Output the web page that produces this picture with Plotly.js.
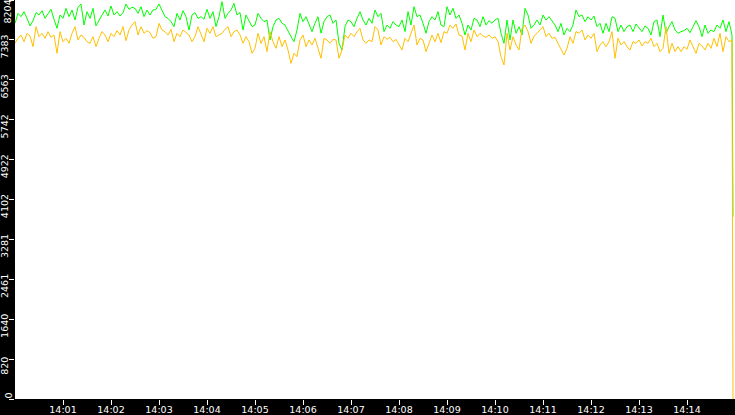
<!DOCTYPE html>
<html>
<head>
<meta charset="utf-8">
<script src="https://cdn.plot.ly/plotly-3.0.1.min.js"></script>
<style>
html,body{margin:0;padding:0;background:#000;}
#chart{width:735px;height:415px;}
</style>
</head>
<body>
<div id="chart"></div>
<script>
// Sampling: one reading every 3.75 s from 14:00:00, then a final reading at the end.
var sampleSeconds = 3.75;

var greenValues = [
7724,7930,7861,7964,7827,7670,7779,7944,7896,7985,7827,7916,8012,7807,7622,7896,7827,8033,7861,7998,7793,8053,8122,7690,7964,7827,8033,7670,7793,7896,7998,7875,8081,7896,7964,7875,7944,8122,8012,8053,
8033,7930,8067,7861,7998,7896,7998,8012,8122,7998,7861,7827,7759,7656,7930,7793,7985,7861,7587,7896,7944,7827,7861,7807,8012,7827,7964,7656,7861,8170,7827,7930,7998,8135,7896,7944,7587,7896,7779,7656,
7690,7930,7827,7759,7793,7382,7656,7793,7827,7724,7690,7553,7450,7347,7587,7930,7759,7861,7690,7553,7724,7861,7519,7759,7861,7896,7724,7793,7313,7176,7656,7793,7759,7656,7827,7964,7793,7690,7827,7724,
7998,7861,7930,7553,7690,7622,7759,7690,7656,7793,7553,7964,7690,8067,7861,7896,7724,7519,7759,7861,7793,7964,7690,7656,8067,7896,8033,7827,7896,7724,7484,7690,7587,7827,7793,7656,7861,7690,7779,7724,
7793,7827,7519,7313,7793,7382,7793,7519,7656,7484,8033,7896,7622,7690,7793,7690,7896,7793,7861,7779,7690,7553,7724,7484,7622,7553,7690,7998,7861,7896,7759,7861,7793,7875,7656,7724,7519,7724,7553,7861,
7827,7553,7690,7553,7656,7690,7553,7711,7622,7553,7670,7622,7484,7759,7793,7450,7896,7519,7656,7759,7587,7519,7553,7574,7622,7532,7656,7779,7656,7450,7690,7519,7587,7553,7690,7622,7793,7553,7759,7484
];
var greenFinal = 3750;

var orangeValues = [
7313,7416,7484,7347,7519,7464,7245,7656,7450,7519,7416,7553,7436,7484,7108,7553,7347,7416,7313,7519,7656,7382,7484,7436,7347,7313,7450,7245,7416,7553,7484,7347,7519,7450,7574,7484,7656,7368,7587,7690,
7759,7484,7656,7519,7574,7532,7416,7450,7724,7587,7553,7484,7601,7347,7519,7450,7587,7532,7484,7347,7450,7656,7484,7347,7622,7519,7656,7450,7484,7519,7601,7656,7450,7553,7587,7484,7313,7450,7347,7108,
7210,7519,7313,7450,7142,7553,7347,7210,7450,7245,7382,7176,6902,7108,7039,7382,7484,7245,7382,7279,7416,7210,7005,7416,7382,7313,7395,7382,7005,7176,7484,7416,7519,7450,7553,7622,7382,7313,7382,7347,
7656,7587,7279,7450,7395,7436,7347,7395,7279,7176,7416,7347,7519,7690,7279,7416,7382,7142,7313,7484,7347,7519,7327,7553,7519,7690,7622,7711,7484,7464,7176,7519,7347,7587,7450,7519,7464,7436,7484,7416,
7450,7347,7039,6868,7519,7176,7450,7279,7176,7622,7690,7553,7313,7464,7519,7587,7656,7450,7519,7416,7436,7313,7176,7073,7210,7450,7313,7553,7519,7587,7382,7484,7416,7519,7142,7279,7347,7245,7347,7553,
7005,7416,7279,7347,7245,7176,7347,7313,7382,7258,7347,7313,7416,7245,7313,7142,7210,7656,7108,7313,7142,7245,7142,7245,7190,7382,7245,7108,7313,7258,7176,7313,7210,7416,7245,7519,7142,7450,7347,7382
];
var orangeFinal = 0;

var yTickValues = [0, 820, 1640, 2461, 3281, 4102, 4922, 5742, 6563, 7383, 8204];
var yTickLabels = ["","820","1640","2461","3281","4102","4922","5742","6563","7383",""];
var topLabel = "8204";
var bottomLabel = "0";

var xTickLabels = ["14:01","14:02","14:03","14:04","14:05","14:06","14:07","14:08","14:09","14:10","14:11","14:12","14:13","14:14"];
var rangeStart = "2024-01-01 14:00:00";
var rangeEnd = "2024-01-01 14:15:00";
var finalTime = "2024-01-01 14:14:57.5";

function pad(n){return (n<10?"0":"")+n;}
function timeAt(sec){
  var m = Math.floor(sec/60), s = sec - m*60;
  var si = Math.floor(s), ms = Math.round((s-si)*1000);
  return "2024-01-01 14:" + pad(m) + ":" + pad(si) + "." + ("00"+ms).slice(-3);
}
var xs = greenValues.map(function(_, i){ return timeAt(i*sampleSeconds); });
xs.push(finalTime);
var gy = greenValues.concat([greenFinal]);
var oy = orangeValues.concat([orangeFinal]);

var xTickVals = xTickLabels.map(function(t){ return "2024-01-01 " + t + ":00"; });

var traces = [
  {x: xs, y: gy, type: "scatter", mode: "lines", line: {color: "#00ff00", width: 1}, hoverinfo: "skip"},
  {x: xs, y: oy, type: "scatter", mode: "lines", line: {color: "#ffc000", width: 1}, hoverinfo: "skip"}
];

var tf = {family: "DejaVu Sans", size: 9.5, color: "#ffffff"};

var layout = {
  width: 735, height: 415,
  margin: {l: 15, r: 0, t: 0, b: 16, pad: 0},
  paper_bgcolor: "#000000",
  plot_bgcolor: "#ffffff",
  showlegend: false,
  font: tf,
  xaxis: {
    type: "date",
    range: [rangeStart, rangeEnd],
    tickmode: "array", tickvals: xTickVals, ticktext: xTickLabels,
    ticks: "outside", ticklen: 5, tickwidth: 1, tickcolor: "#ffffff",
    ticklabelstandoff: -3,
    showgrid: false, zeroline: false, showline: false,
    tickfont: tf
  },
  yaxis: {
    range: [0, 8204],
    tickmode: "array", tickvals: yTickValues, ticktext: yTickLabels,
    ticks: "outside", ticklen: 5, tickwidth: 1, tickcolor: "#ffffff",
    tickangle: -90, ticklabelshift: 8, ticklabelstandoff: -3,
    ticklabeloverflow: "allow",
    showgrid: false, zeroline: false, showline: false,
    tickfont: tf
  },
  annotations: [{
    text: topLabel, xref: "paper", yref: "paper", x: 0, y: 0.97,
    xanchor: "left", yanchor: "middle", xshift: -15,
    textangle: -90, showarrow: false,
    font: tf
  }, {
    text: bottomLabel, xref: "paper", yref: "paper", x: 0, y: 0,
    xanchor: "left", yanchor: "middle", xshift: -15, yshift: 3,
    textangle: -90, showarrow: false,
    font: tf
  }]
};

Plotly.newPlot("chart", traces, layout, {staticPlot: true, displayModeBar: false});
</script>
</body>
</html>
